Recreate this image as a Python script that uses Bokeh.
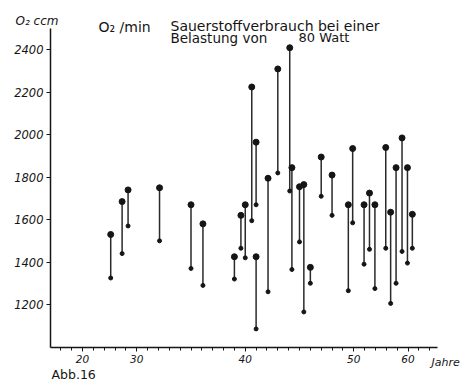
import numpy as np
from bokeh.plotting import figure
from bokeh.models import ColumnDataSource, Range1d, FixedTicker, Label
from bokeh.embed import file_html
from bokeh.resources import INLINE

# --- data ---
AGES = [25.2, 27.3, 28.4, 32.1, 35.0, 36.1, 39.0, 39.6, 40.0, 40.6, 41.0, 41.0,
        42.1, 43.0, 44.1, 44.3, 45.0, 45.4, 46.0, 47.0, 48.0, 49.5, 49.9, 51.9,
        52.9, 53.9, 55.9, 56.8, 57.8, 58.9, 59.9, 60.8]
O2_TOP = [1530, 1685, 1740, 1750, 1670, 1580, 1425, 1620, 1670, 2225, 1965, 1425,
          1795, 2310, 2410, 1845, 1755, 1765, 1375, 1895, 1810, 1670, 1935, 1670,
          1725, 1670, 1940, 1635, 1845, 1985, 1845, 1625]
O2_BOTTOM = [1325, 1440, 1570, 1500, 1370, 1290, 1320, 1465, 1420, 1595, 1670, 1085,
             1260, 1820, 1735, 1365, 1495, 1165, 1300, 1710, 1620, 1265, 1585, 1390,
             1460, 1275, 1465, 1205, 1300, 1450, 1395, 1465]
X_TICK_AGES = [20, 30, 40, 50, 60]
Y_TICKS = [1200, 1400, 1600, 1800, 2000, 2200, 2400]

# broken (piecewise-linear) age scale of the original axis
AGE_BREAKS = [10, 30, 50, 70]
AXIS_BREAKS = [0, 10, 30, 40]


def age_scale(a):
    return np.interp(a, AGE_BREAKS, AXIS_BREAKS)


src = ColumnDataSource(dict(
    u=age_scale(np.array(AGES)),
    top=O2_TOP,
    bot=O2_BOTTOM,
))

W, H = 469, 383
X_LO, X_HI = -2.558, 40.668
Y_LO, Y_HI = 827.7, 2632.6
AX_X0, AX_X1 = 2.05, 37.7      # extent of the drawn x axis
AX_Y0, AX_Y1 = 997, 2500       # extent of the drawn y axis

p = figure(width=W, height=H, output_backend="svg", toolbar_location=None,
           x_range=Range1d(X_LO, X_HI), y_range=Range1d(Y_LO, Y_HI),
           min_border=0)
p.outline_line_color = None
p.xgrid.visible = False
p.ygrid.visible = False
p.background_fill_color = "white"
p.border_fill_color = "white"

ink = "#151515"
p.segment(x0="u", y0="bot", x1="u", y1="top", source=src, line_color="#2a2a2a",
          line_width=1.5)
p.scatter(x="u", y="top", source=src, size=6, color=ink)
p.scatter(x="u", y="bot", source=src, size=4, color=ink)

# axes drawn inside the frame
xa, ya = p.xaxis[0], p.yaxis[0]
xa.fixed_location = AX_Y0
xa.bounds = (AX_X0, AX_X1)
ya.fixed_location = AX_X0
ya.bounds = (AX_Y0, AX_Y1)

tick_pos = [float(v) for v in age_scale(np.array(X_TICK_AGES))]
xa.ticker = FixedTicker(ticks=tick_pos, minor_ticks=list(range(3, 38)))
xa.major_label_overrides = {t: str(a) for t, a in zip(tick_pos, X_TICK_AGES)}
ya.ticker = FixedTicker(ticks=Y_TICKS)

for ax in (xa, ya):
    ax.axis_line_color = ink
    ax.axis_line_width = 1.5
    ax.major_tick_line_color = ink
    ax.minor_tick_line_color = ink
    ax.major_tick_in = 0
    ax.minor_tick_in = 0
    ax.major_tick_out = 4
    ax.major_label_standoff = 3
    ax.major_label_text_font = "DejaVu Sans"
    ax.major_label_text_font_style = "italic"
    ax.major_label_text_color = ink
xa.minor_tick_out = 3
ya.minor_tick_out = 0
xa.major_label_text_font_size = "10.5px"
ya.major_label_text_font_size = "11.5px"


def lab(text, cx, cy, size, style="normal", align="left"):
    # cx, cy: canvas pixels of the text baseline (frame == canvas)
    p.add_layout(Label(x=cx, y=H - cy, x_units="screen", y_units="screen",
                       text=text, text_font="DejaVu Sans", text_font_size=size,
                       text_font_style=style, text_color=ink, text_align=align,
                       text_baseline="alphabetic"))


lab("O₂ ccm", 15, 20, "12px", "italic")
lab("O₂ /min", 98, 26, "14px")
lab("Sauerstoffverbrauch bei einer", 170, 25, "14px")
lab("Belastung", 170, 37, "13.5px")
lab("von", 242, 37, "13.5px")
lab("80 Watt", 298, 37, "13px")
lab("Jahre", 431, 362, "11px", "italic")
lab("Abb.16", 51, 374, "12.5px")

open("out.html", "w").write(file_html(p, INLINE))
